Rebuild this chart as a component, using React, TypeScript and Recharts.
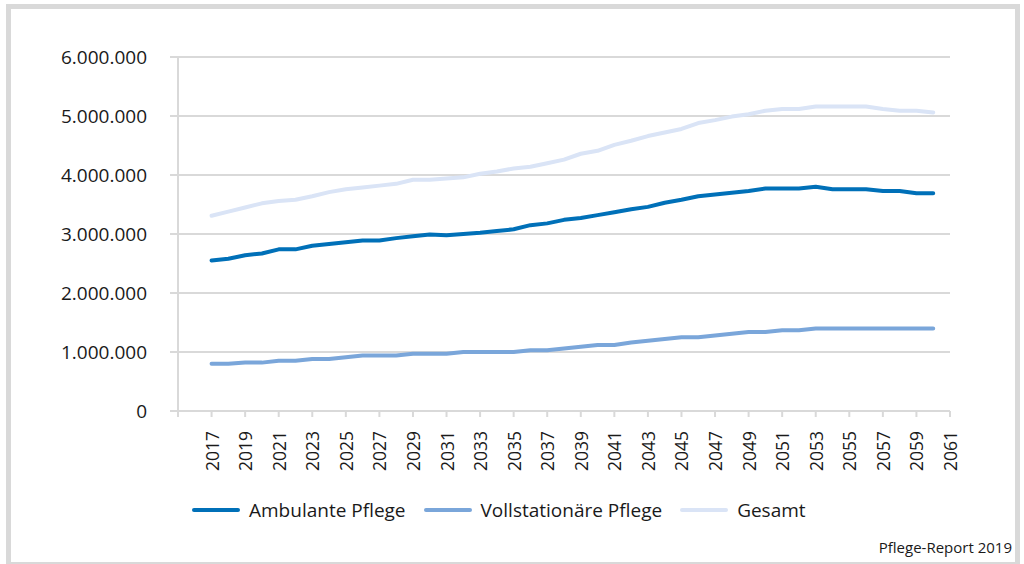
import { LineChart, Line, XAxis, YAxis, CartesianGrid } from "recharts";

const years = [
  2017, 2018, 2019, 2020, 2021, 2022, 2023, 2024, 2025, 2026, 2027, 2028, 2029, 2030, 2031,
  2032, 2033, 2034, 2035, 2036, 2037, 2038, 2039, 2040, 2041, 2042, 2043, 2044, 2045, 2046,
  2047, 2048, 2049, 2050, 2051, 2052, 2053, 2054, 2055, 2056, 2057, 2058, 2059, 2060,
];

// Werte in Mio.
const ambulant = [
  2.55, 2.58, 2.64, 2.67, 2.74, 2.74, 2.8, 2.83, 2.86, 2.89, 2.89, 2.93, 2.96, 2.99, 2.98,
  3.0, 3.02, 3.05, 3.08, 3.15, 3.18, 3.24, 3.27, 3.32, 3.37, 3.42, 3.46, 3.53, 3.58, 3.64,
  3.67, 3.7, 3.73, 3.77, 3.77, 3.77, 3.8, 3.76, 3.76, 3.76, 3.73, 3.73, 3.69, 3.69,
];
const vollstationaer = [
  0.8, 0.8, 0.82, 0.82, 0.85, 0.85, 0.88, 0.88, 0.91, 0.94, 0.94, 0.94, 0.97, 0.97, 0.97,
  1.0, 1.0, 1.0, 1.0, 1.03, 1.03, 1.06, 1.09, 1.12, 1.12, 1.16, 1.19, 1.22, 1.25, 1.25,
  1.28, 1.31, 1.34, 1.34, 1.37, 1.37, 1.4, 1.4, 1.4, 1.4, 1.4, 1.4, 1.4, 1.4,
];
const gesamt = [
  3.31, 3.38, 3.45, 3.52, 3.56, 3.58, 3.64, 3.71, 3.76, 3.79, 3.82, 3.85, 3.92, 3.92, 3.94,
  3.96, 4.02, 4.06, 4.11, 4.14, 4.2, 4.26, 4.36, 4.41, 4.51, 4.58, 4.66, 4.72, 4.78, 4.88,
  4.93, 4.99, 5.03, 5.09, 5.12, 5.12, 5.16, 5.16, 5.16, 5.16, 5.12, 5.09, 5.09, 5.06,
];

const yTicks = [0, 1000000, 2000000, 3000000, 4000000, 5000000, 6000000];
const xTicks = [
  2015, 2017, 2019, 2021, 2023, 2025, 2027, 2029, 2031, 2033, 2035, 2037, 2039, 2041, 2043,
  2045, 2047, 2049, 2051, 2053, 2055, 2057, 2059, 2061,
];

const data = years.map((year, i) => ({
  year,
  ambulant: Math.round(ambulant[i] * 1e6),
  voll: Math.round(vollstationaer[i] * 1e6),
  gesamt: Math.round(gesamt[i] * 1e6),
}));

const FONT = "'Open Sans', sans-serif";
const GRID = "#d9d9d9";

const series = [
  { key: "ambulant", name: "Ambulante Pflege", color: "#0070b8" },
  { key: "voll", name: "Vollstationäre Pflege", color: "#7aa6da" },
  { key: "gesamt", name: "Gesamt", color: "#dae4f6" },
];

const fmt = (v: number) => String(v).replace(/\B(?=(\d{3})+(?!\d))/g, ".");

function YearTick({ x, y, payload }: any) {
  if (payload.value === 2015) return null;
  return (
    <text
      x={0}
      y={0}
      transform={`translate(${x},${y + 12}) rotate(-90)`}
      textAnchor="end"
      dominantBaseline="central"
      fontSize={17.5}
      fill="#1a1a1a"
      fontFamily={FONT}
    >
      {payload.value}
    </text>
  );
}

export default function App() {
  return (
    <div style={{ position: "absolute", left: 0, top: 0, width: 1024, height: 564, overflow: "hidden", background: "#fff" }}>
      <div
        style={{
          position: "absolute",
          left: 6,
          top: 4,
          width: 1014,
          height: 563,
          border: `5px solid ${GRID}`,
          boxSizing: "border-box",
        }}
      />
      <div style={{ position: "absolute", left: 0, top: 0 }}>
        <LineChart width={1024} height={564} data={data} margin={{ top: 57, right: 74, bottom: 93, left: 78 }}>
          <CartesianGrid vertical={false} stroke={GRID} strokeWidth={2} />
          <XAxis
            dataKey="year"
            type="number"
            domain={[2015, 2061]}
            ticks={xTicks}
            interval={0}
            tick={<YearTick />}
            tickSize={6}
            stroke={GRID}
            strokeWidth={2}
            height={60}
          />
          <YAxis
            domain={[0, 6000000]}
            ticks={yTicks}
            tickFormatter={fmt}
            width={100}
            tickSize={8}
            tickMargin={23}
            stroke={GRID}
            strokeWidth={2}
            tick={{ fontSize: 19, fill: "#1a1a1a", fontFamily: FONT }}
          />
          {series.map((s) => (
            <Line
              key={s.key}
              dataKey={s.key}
              name={s.name}
              stroke={s.color}
              strokeWidth={4}
              dot={false}
              type="linear"
              strokeLinecap="round"
              strokeLinejoin="round"
              isAnimationActive={false}
            />
          ))}
        </LineChart>
      </div>
      <div
        style={{
          position: "absolute",
          left: 192,
          top: 497,
          display: "flex",
          gap: 18,
          fontFamily: FONT,
          fontSize: 19,
          color: "#1a1a1a",
        }}
      >
        {series.map((s) => (
          <div key={s.key} style={{ display: "flex", alignItems: "center" }}>
            <svg width={48} height={6} style={{ marginRight: 9 }}>
              <line x1={2} y1={3} x2={46} y2={3} stroke={s.color} strokeWidth={4} strokeLinecap="round" />
            </svg>
            <span>{s.name}</span>
          </div>
        ))}
      </div>
      <div
        style={{
          position: "absolute",
          right: 12,
          top: 537,
          fontFamily: FONT,
          fontSize: 15,
          color: "#1a1a1a",
        }}
      >
        Pflege-Report 2019
      </div>
    </div>
  );
}
